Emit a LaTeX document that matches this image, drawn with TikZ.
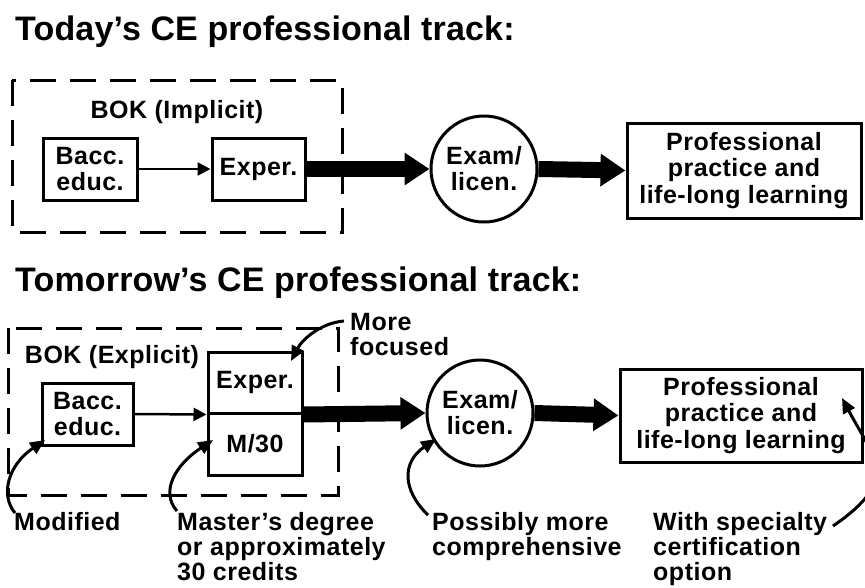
\documentclass[tikz,border=0pt]{standalone}
\usepackage{fontspec}
\setmainfont{Liberation Sans}[LetterSpace=2]
\newfontfamily\titlefont{Liberation Sans}[LetterSpace=0.5]
\usetikzlibrary{arrows.meta}
\begin{document}
\begin{tikzpicture}[x=1pt,y=-1pt,
  box/.style={draw,line width=3pt,inner sep=0pt,font=\fontsize{25}{26.5}\selectfont\bfseries,align=center},
  circ/.style={draw,circle,line width=3pt,minimum size=106pt,inner sep=0pt,font=\fontsize{25}{26}\selectfont\bfseries,align=center},
  dashbox/.style={draw,line width=3pt,dash pattern=on 26pt off 14pt},
  ttl/.style={anchor=base west,inner sep=0pt,font=\titlefont\fontsize{34}{36}\selectfont\bfseries},
  lbl/.style={anchor=north west,inner sep=0pt,align=left,font=\fontsize{25}{25}\selectfont\bfseries},
  bok/.style={inner sep=0pt,font=\fontsize{25}{26}\selectfont\bfseries},
  thin/.style={line width=2.5pt,-{Triangle[length=13pt,width=13pt]}},
  thick/.style={line width=16pt,-{Triangle[length=25pt,width=31pt]}},
  curv/.style={line width=3pt,-{Triangle[length=15pt,width=13pt]}}]
\useasboundingbox (0,0) rectangle (865,587);
\clip (0,0) rectangle (865,587);
% ---------- Today
\node[ttl] (t1) at (15,40) {Today’s CE professional track:};
\draw[dashbox] (12,80) rectangle (342,232);
\node[bok] (bok1) at (177,112) {BOK (Implicit)};
\node[box,minimum width=94pt,minimum height=62pt] (bacc1) at (90,169) {Bacc.\\educ.};
\node[box,minimum width=93pt,minimum height=62pt] (exp1) at (258.5,169) {Exper.};
\node[circ] (exam1) at (484,169) {Exam/\\licen.};
\node[box,minimum width=234pt,minimum height=95pt] (prof1) at (744,170.5) {Professional\\practice and\\life-long learning};
\draw[thin] (bacc1.east) -- (exp1.west);
\draw[thick] (exp1.east) -- (exam1.west);
\draw[thick] (exam1.east) -- (prof1.west);
% ---------- Tomorrow
\node[ttl] (t2) at (15,291) {Tomorrow’s CE professional track:};
\draw[dashbox] (8,328) rectangle (338,495);
\node[bok] (bok2) at (112,357) {BOK (Explicit)};
\node[box,minimum width=91pt,minimum height=62pt] (bacc2) at (87.5,414) {Bacc.\\educ.};
\node[box,minimum width=94pt,minimum height=61pt] (exp2) at (255,382.5) {Exper.};
\node[box,minimum width=94pt,minimum height=62pt] (m30) at (255,444) {M/30};
\node[circ] (exam2) at (480,413) {Exam/\\licen.};
\node[box,minimum width=242pt,minimum height=93pt] (prof2) at (741,415.5) {Professional\\practice and\\life-long learning};
\draw[thin] (bacc2.east) -- (exp2.south west);
\draw[thick] (exp2.south east) -- (exam2.west);
\draw[thick] (exam2.east) -- (prof2.west);
% annotations
\node[lbl] (mf) at (350,313) {More\\focused};
\node[lbl] (mod) at (14,512) {Modified};
\node[lbl] (mas) at (177,512) {Master’s degree\\or approximately\\30 credits};
\node[lbl] (pos) at (432,512) {Possibly more\\comprehensive};
\node[lbl] (spec) at (653,512) {With specialty\\certification\\option};
\coordinate (mfs) at (344,321);
\coordinate (mods) at (15,513);
\coordinate (mass) at (177,511);
\coordinate (poss) at (428,515);
\coordinate (specs) at (833,526);
\draw[curv] (mfs) .. controls (320,323) and (302,340) .. (291,361);
\draw[curv] (mods) .. controls (0,495) and (8,465) .. (45,440);
\draw[curv] (mass) .. controls (160,492) and (175,465) .. (213,440);
\draw[curv] (poss) .. controls (402,490) and (402,462) .. (436,439);
\draw[curv] (specs) .. controls (900,480) and (875,460) .. (842,398);
\end{tikzpicture}
\end{document}
